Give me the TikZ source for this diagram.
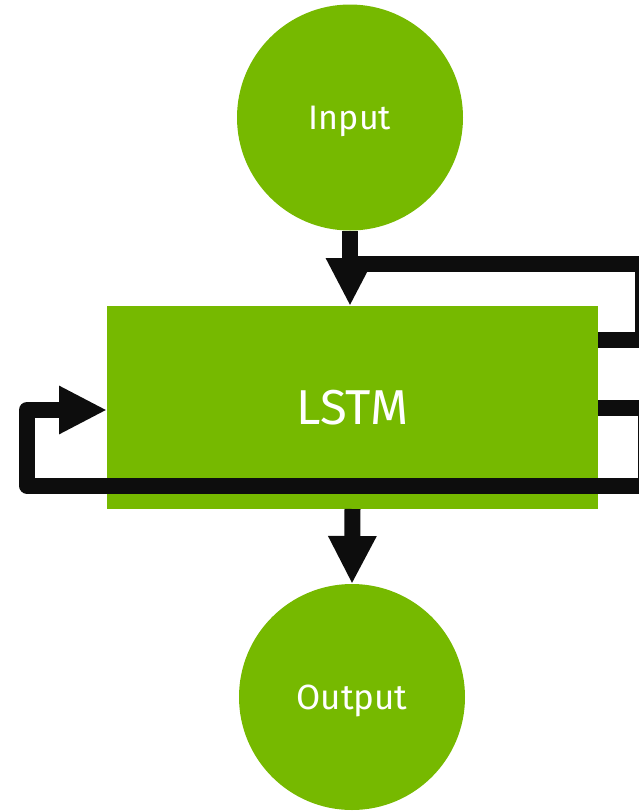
\documentclass[tikz,border=0pt]{standalone}
\usepackage{fontspec}
\setmainfont{Fira Sans}
\usetikzlibrary{arrows.meta}
\definecolor{nvgreen}{HTML}{76B900}
\definecolor{ink}{HTML}{0D0D0D}
\begin{document}
\begin{tikzpicture}[x=1pt,y=-1pt,
  circ/.style={circle, fill=nvgreen, minimum size=226pt, inner sep=0pt, outer sep=0pt,
    text=white, font=\fontsize{35}{40}\selectfont, text height=24.1pt, text depth=0pt},
  lstmbox/.style={rectangle, fill=nvgreen, minimum width=491pt, minimum height=203pt,
    inner sep=0pt, outer sep=0pt, text=white, font=\fontsize{49}{54}\selectfont,
    text height=33.8pt, text depth=0pt},
  flow/.style={draw=ink, line width=16pt, line join=round},
  tip/.style={-{Triangle[length=48pt,width=45pt]}}]
\useasboundingbox (0,0) rectangle (639,811);
\node[circ, font=\fontsize{34}{40}\selectfont, text height=23.4pt] (in) at (350,117.5) {Input};
\node[lstmbox] (lstm) at (352.5,407.5) {LSTM};
\node[circ] (out) at (352,697) {Output};
\coordinate (fbA) at (643,339.5);
\coordinate (fbB) at (643,264);
\coordinate (fbC) at (646,408);
\coordinate (fbD) at (646,485.5);
\coordinate (fbE) at (27,485.5);
\coordinate (fbF) at (27,410);
\draw[flow, tip] (in.south) -- (in.south |- lstm.north);
\draw[flow] (lstm.east |- fbA) -- (fbA) -- (fbB) -- (in.south |- fbB);
\draw[flow, tip] (lstm.east |- fbC) -- (fbC) -- (fbD) -- (fbE) -- (fbF) -- (lstm.west |- fbF);
\draw[flow, tip] (lstm.south) -- (out.north);
\end{tikzpicture}
\end{document}
